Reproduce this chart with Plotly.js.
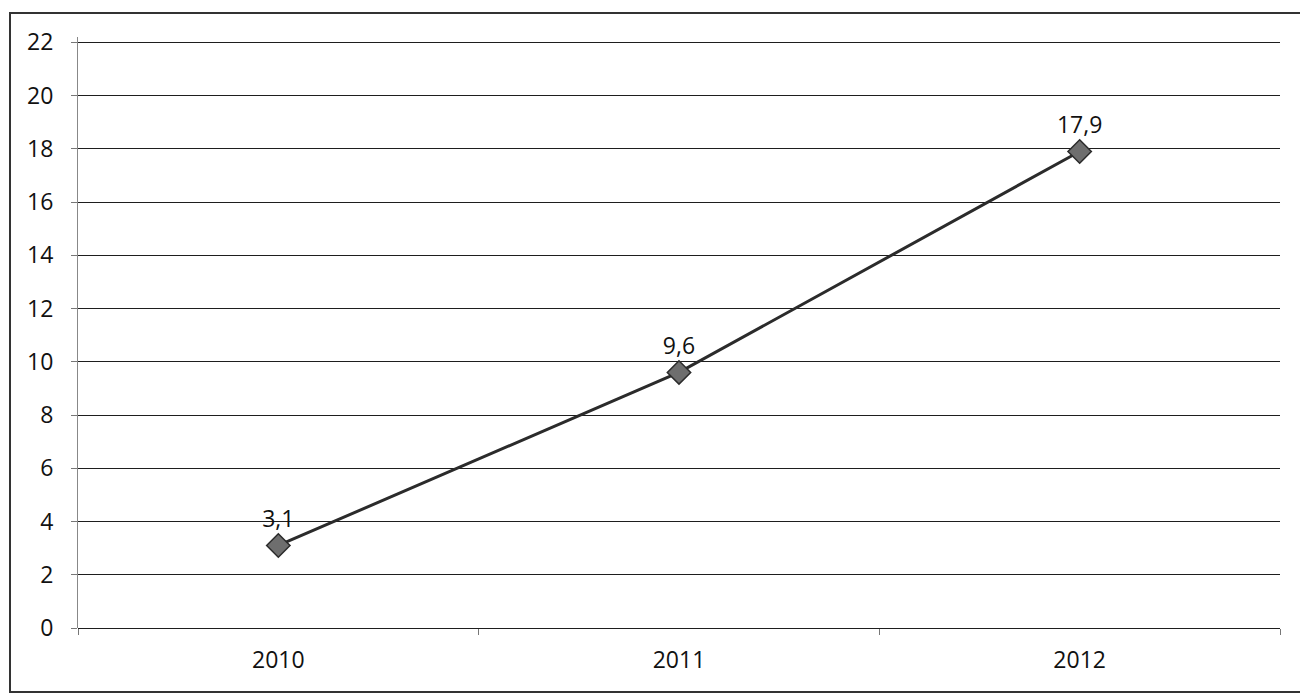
<!DOCTYPE html>
<html>
<head>
<meta charset="utf-8">
<script src="https://cdn.plot.ly/plotly-3.0.1.min.js"></script>
<style>
  html, body { margin: 0; padding: 0; background: #ffffff; }
  #chart { width: 1300px; height: 696px; }
</style>
</head>
<body>
<div id="chart"></div>
<script>
const years = ['2010', '2011', '2012'];
const values = [3.1, 9.6, 17.9];
const yTicks = [0, 2, 4, 6, 8, 10, 12, 14, 16, 18, 20, 22];

const fontFam = 'Open Sans, Noto Sans, sans-serif';

const trace = {
  x: years,
  y: values,
  type: 'scatter',
  mode: 'lines+markers+text',
  text: values.map(v => v.toFixed(1).replace('.', ',')),
  textposition: 'top center',
  textfont: { family: fontFam, size: 23, color: '#111' },
  cliponaxis: false,
  line: { color: '#2b2b2b', width: 3 },
  marker: { symbol: 'diamond', size: 18, color: '#6e6e6e', line: { color: '#2b2b2b', width: 1.5 } },
  hoverinfo: 'x+y'
};

const layout = {
  width: 1300, height: 696,
  margin: { l: 78, r: 20, t: 37, b: 68 },
  paper_bgcolor: '#ffffff', plot_bgcolor: '#ffffff',
  showlegend: false,
  separators: ', ',
  font: { family: fontFam, size: 23, color: '#111' },
  xaxis: {
    type: 'category',
    categoryorder: 'array', categoryarray: years,
    range: [-0.5, 2.5],
    showgrid: false, zeroline: false,
    showline: false,
    ticks: 'outside', tickson: 'boundaries', ticklen: 6, tickcolor: '#777',
    ticklabelstandoff: 16,
    tickfont: { family: fontFam, size: 23, color: '#111' }
  },
  yaxis: {
    range: [0, 22.2],
    tickvals: yTicks,
    ticktext: yTicks.map(String),
    showgrid: true, gridcolor: '#1e1e1e', gridwidth: 1,
    zeroline: true, zerolinecolor: '#1e1e1e', zerolinewidth: 1,
    showline: true, linecolor: '#888', linewidth: 1,
    ticks: 'outside', ticklen: 6, tickcolor: '#777',
    ticklabelstandoff: 13,
    tickfont: { family: fontFam, size: 23, color: '#111' }
  },
  shapes: [{
    type: 'rect', xref: 'paper', yref: 'paper',
    x0: (10 - 78) / 1202, x1: (1310 - 78) / 1202,
    y0: (628 - 692) / 591, y1: (628 - 13) / 591,
    line: { color: '#333', width: 2 }, fillcolor: 'rgba(0,0,0,0)', layer: 'below'
  }]
};

Plotly.newPlot('chart', [trace], layout, { displayModeBar: false, staticPlot: true });
</script>
</body>
</html>
